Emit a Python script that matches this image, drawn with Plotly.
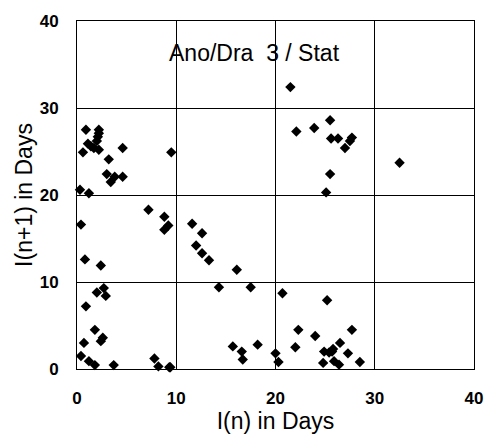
import plotly.graph_objects as go

# I(n) values (days)
x_vals = [
    0.9, 2.2, 2.2, 2.1, 2.0, 1.1, 0.6, 1.4, 1.7, 2.2, 4.6, 9.5, 3.2, 3.0, 3.8, 3.4, 4.6, 0.3, 1.2,
    7.2, 8.8, 9.2, 8.8, 0.4, 0.8, 2.4,
    2.0, 2.7, 2.9, 0.9, 1.8, 2.6, 2.4, 0.7, 0.4, 1.2, 1.8, 3.7, 7.8, 8.2, 9.3,
    11.6, 12.6, 12.0, 12.6, 13.3, 16.1,
    14.3, 17.5, 15.7, 16.6, 16.7, 18.2, 20.0, 9.4,
    25.1, 20.7, 25.2, 22.3, 24.0, 27.7, 26.5, 22.0, 24.9, 25.4, 25.8, 25.7, 27.3,
    20.3, 24.8, 25.9, 26.4, 28.5,
    21.5, 22.1, 23.9, 25.5, 25.6, 26.3, 27.7, 27.5, 27.0, 32.5, 25.5,
]
# I(n+1) values (days)
y_vals = [
    27.5, 27.5, 27.1, 26.7, 26.2, 25.9, 24.9, 25.6, 25.4, 25.2, 25.4, 24.9, 24.1, 22.4, 22.1, 21.5, 22.1, 20.6, 20.2,
    18.3, 17.5, 16.5, 16.0, 16.6, 12.6, 11.9,
    8.8, 9.3, 8.4, 7.2, 4.5, 3.6, 3.2, 3.0, 1.5, 0.9, 0.45, 0.45, 1.2, 0.3, 0.2,
    16.7, 15.6, 14.2, 13.3, 12.5, 11.4,
    9.4, 9.4, 2.6, 2.0, 1.1, 2.8, 1.8, 0.2,
    20.3, 8.7, 7.9, 4.5, 3.8, 4.5, 3.0, 2.5, 2.0, 1.9, 2.3, 2.0, 1.8,
    0.8, 0.7, 0.9, 0.5, 0.8,
    32.4, 27.3, 27.7, 28.6, 26.5, 26.5, 26.6, 26.2, 25.4, 23.7, 22.4,
]

tick_vals = [0, 10, 20, 30, 40]
tick_text = ["0", "10", "20", "30", "40"]
title_text = "Ano/Dra  3 / Stat"
x_title = "I(n) in Days"
y_title = "I(n+1) in Days"

FONT = "Liberation Sans, Arial, sans-serif"

fig = go.Figure()
fig.add_trace(go.Scatter(
    x=x_vals, y=y_vals, mode="markers",
    marker=dict(symbol="diamond", size=8, color="black", line=dict(width=0)),
    showlegend=False, cliponaxis=False,
))

axis_common = dict(
    range=[0, 40], tickvals=tick_vals, ticktext=tick_text,
    showgrid=True, gridcolor="black", gridwidth=1,
    showline=True, linecolor="black", linewidth=1, mirror=True,
    zeroline=False, ticks="",
    tickfont=dict(family=FONT, size=17, color="black", weight="bold"),
    ticklabelstandoff=14,
)

fig.update_xaxes(**axis_common,
                 title=dict(text=x_title, font=dict(family=FONT, size=23, color="black"), standoff=2))
fig.update_yaxes(**axis_common,
                 title=dict(text=y_title, font=dict(family=FONT, size=23, color="black"), standoff=0))

fig.add_annotation(
    x=17.9, y=36.3, xref="x", yref="y", text=title_text, showarrow=False,
    font=dict(family=FONT, size=23, color="black"),
)

fig.update_layout(
    width=495, height=441,
    margin=dict(l=77, r=15, t=15, b=72),
    paper_bgcolor="white", plot_bgcolor="white",
)

fig.write_html("out.html")
